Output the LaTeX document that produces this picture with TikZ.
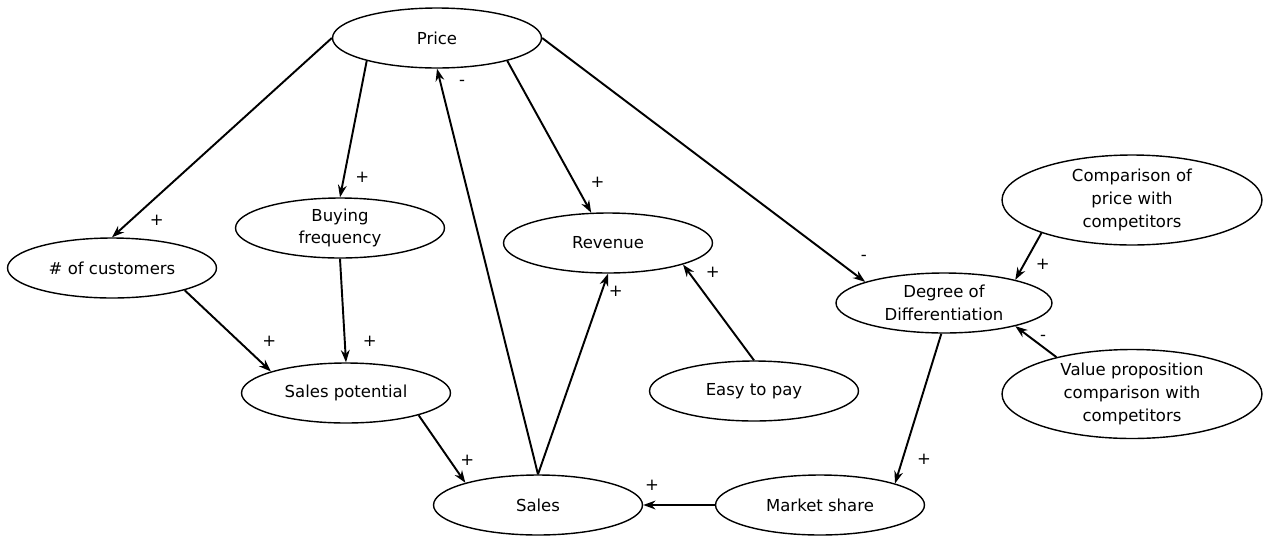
\documentclass[tikz,border=0pt]{standalone}
\usepackage{fontspec}
\setmainfont{DejaVu Sans}
\usetikzlibrary{shapes.geometric, arrows.meta}
\begin{document}
\begin{tikzpicture}
[x=0.02cm, y=-0.02cm, font=\fontsize{9.4}{13}\selectfont]
\tikzstyle{factor}=[ellipse, draw, line width=0.8pt, inner sep=0pt, minimum width=4.18cm, minimum height=1.2cm, align=center]
\tikzstyle{link}=[line width=1.1pt, -{Stealth[length=7pt, width=5pt]}]
\tikzstyle{sign}=[inner sep=0pt]
\useasboundingbox (0,0) rectangle (1269,535);

\node[factor]	(price)		at (437,38)		{Price};
\node[factor]	(cust)		at (112,268)	{\# of customers};
\node[factor]	(buying)	at (340,228)	{Buying\\frequency};
\node[factor]	(revenue)	at (608,243)	{Revenue};
\node[factor, minimum width=4.32cm]	(degree)	at (944,303)	{Degree of\\Differentiation};
\node[factor, minimum width=5.2cm, minimum height=1.8cm]	(comp)	at (1132,200)	{Comparison of\\price with\\competitors};
\node[factor, minimum width=5.2cm, minimum height=1.78cm]	(value)	at (1132,394)	{Value proposition\\comparison with\\competitors};
\node[factor]	(salespot)	at (346,393)	{Sales potential};
\node[factor]	(easy)		at (754,391)	{Easy to pay};
\node[factor]	(sales)		at (538,505)	{Sales};
\node[factor]	(market)	at (820,505)	{Market share};

\draw[link] (price.west) -- node[sign, pos=0.915, xshift=0.52cm] {+} (cust.north);
\draw[link] (price.198) -- node[sign, pos=0.854, xshift=0.37cm] {+} (buying.north);
\draw[link] (price.342) -- node[sign, pos=0.8, xshift=0.46cm] {+} (revenue.119);
\draw[link] (price.east) -- node[sign, pos=0.9, xshift=0.62cm] {-} (degree.165);
\draw[link] (sales.north) -- node[sign, pos=0.965, xshift=0.43cm] {-} (price.south);
\draw[link] (sales.north) -- node[sign, pos=0.911, xshift=0.28cm] {+} (revenue.south);
\draw[link] (easy.north) -- node[sign, pos=0.918, xshift=0.48cm] {+} (revenue.344);
\draw[link] (cust.343) -- node[sign, pos=0.634, xshift=0.6cm] {+} (salespot.164);
\draw[link] (buying.south) -- node[sign, pos=0.8, xshift=0.5cm] {+} (salespot.north);
\draw[link] (salespot.343) -- node[sign, pos=0.667, xshift=0.35cm] {+} (sales.163);
\draw[link] (market.west) -- node[sign, pos=0.877, yshift=0.4cm] {+} (sales.east);
\draw[link] (degree.265) -- node[sign, pos=0.84, xshift=0.43cm] {+} (market.16);
\draw[link] (comp.200) -- node[sign, pos=0.66, xshift=0.37cm] {+} (degree.18);
\draw[link] (value.154) -- node[sign, pos=0.625, xshift=0.25cm] {-} (degree.342);
\end{tikzpicture}
\end{document}
